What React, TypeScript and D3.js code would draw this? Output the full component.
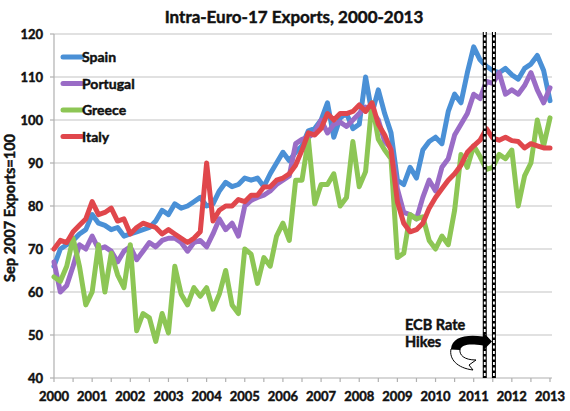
import React from "react";
import * as d3 from "d3";

// Bi-monthly observations, Jan 2000 .. Jan 2013 (index i -> 2000 + i*2 months)
const START_YEAR = 2000;
const STEP_MONTHS = 2;

const spain = [
  66, 70, 71, 72, 73.5, 74.5, 78, 76, 75.5, 74.5, 75, 73,
  73.5, 74, 74.5, 75, 76.5, 79, 78, 80.5, 79.5, 80, 81, 82,
  80, 80.5, 83.5, 85.5, 84.5, 85, 86.5, 86, 86.5, 84.5, 87.5, 90,
  92.5, 90.5, 92.5, 94, 97.5, 98, 100, 104, 96, 100.5, 101.5, 98,
  99, 110, 101.5, 107, 101.5, 97, 86, 85, 89, 86.5, 93, 95,
  96, 94.5, 102, 106, 104, 111, 117, 114, 112.5, 111.5, 111, 112,
  110.5, 109.5, 112, 113, 115, 111.5, 104.5,
];

const portugal = [
  67, 60, 61.5, 66, 71, 70, 73, 70, 70.5, 69.5, 67, 69.5,
  70.5, 67.5, 69.5, 71.5, 70.5, 72, 72.5, 72.5, 71.5, 69.5, 71.5, 72,
  70.5, 73.5, 77, 74.5, 76, 73, 80, 81.3, 82, 82.5, 83.5, 85,
  86, 87, 94.5, 95.5, 96, 97, 100, 97, 99, 99.5, 98.5, 100,
  101.5, 103, 102, 100, 95, 93.5, 84, 78.5, 78, 77, 82, 86,
  83.5, 89, 91, 96.5, 99, 101.5, 106, 105, 109, 108.5, 111, 106,
  107, 106, 108, 111, 107, 104, 107.5,
];

const greece = [
  63.5, 62.5, 66, 72.5, 66, 57, 60, 71, 60, 69, 64, 61,
  71, 51, 55, 54, 48.5, 55, 50.5, 66, 59.5, 57, 61, 59,
  61, 56, 59.5, 65, 57, 55, 70, 68.8, 62, 68, 66, 73,
  76, 72, 86, 86, 95.5, 80.5, 85, 85, 87.5, 80, 82, 95,
  84.5, 88, 104, 95.5, 93, 91, 68, 69, 78, 77, 77.5, 72,
  70, 73, 71, 79, 92, 89, 94, 91.5, 88.5, 89, 92, 91,
  93, 80, 87, 90, 100, 94, 100.5,
];

const italy = [
  70, 72, 71.5, 74, 75.5, 77, 81, 78, 78.5, 79.5, 76.5, 77,
  73.5, 75, 76, 75.5, 75, 73.5, 74.5, 73.5, 72.5, 71.5, 72.5, 74,
  90, 76.5, 79, 80, 80, 81.5, 81, 82.5, 82.5, 84.4, 84.5, 86,
  86.5, 87.5, 89.5, 93, 97, 96.5, 98, 101.5, 100, 101.5, 101.5, 102,
  103.5, 102, 104, 99, 96.5, 93, 81, 76, 74, 74.5, 76, 79.5,
  82, 84, 86, 87.5, 89.5, 92.5, 94, 95.3, 98, 95.8, 95.3, 96,
  95.2, 95, 93.5, 94.5, 94, 93.5, 93.5,
];

const seriesNames = ["Spain", "Portugal", "Greece", "Italy"];
const seriesValues = [spain, portugal, greece, italy];
const seriesColors = ["#4a90d6", "#9a6cc6", "#8dc655", "#e0474c"];

const yearLabels = [
  "2000", "2001", "2002", "2003", "2004", "2005", "2006",
  "2007", "2008", "2009", "2010", "2011", "2012", "2013",
];
const yTicks = [40, 50, 60, 70, 80, 90, 100, 110, 120];
const ecbHikes = [2011.29, 2011.53]; // April and July 2011

const FONT = "Lato, 'Open Sans', sans-serif";
const TXT = { fill: "#111", stroke: "#111", strokeWidth: 0.45, fontWeight: "bold" as const };

export default function App() {
  const W = 570;
  const H = 411;
  const left = 54;
  const right = 550;
  const top = 34;
  const bottom = 378;

  const x = d3.scaleLinear().domain([2000, 2013]).range([left, right]);
  const y = d3.scaleLinear().domain([40, 120]).range([bottom, top]);

  const timeOf = (i: number) => START_YEAR + (i * STEP_MONTHS) / 12;

  const line = d3
    .line<number>()
    .x((_, i) => x(timeOf(i)))
    .y((d) => y(d))
    .curve(d3.curveLinear);

  const halfYearTicks = d3.range(2000, 2013.01, 0.5);

  return (
    <svg
      width={W}
      height={H}
      style={{ position: "absolute", left: 0, top: 0, background: "#fff" }}
      fontFamily={FONT}
    >
      <rect x={0} y={0} width={W} height={H} fill="#fff" />
      {/* Title */}
      <text x={294} y={23} textAnchor="middle" fontSize={17} {...TXT}>
        Intra-Euro-17 Exports, 2000-2013
      </text>

      {/* Gridlines */}
      {yTicks
        .filter((t) => t > 40)
        .map((t) => (
          <line
            key={"g" + t}
            x1={left}
            x2={right + 2}
            y1={y(t)}
            y2={y(t)}
            stroke="#c4c4c4"
            strokeWidth={1.2}
          />
        ))}

      {/* Axes */}
      <line x1={left} x2={left} y1={top} y2={bottom} stroke="#b0b0b0" strokeWidth={1.2} />
      <line x1={left} x2={right + 2} y1={bottom} y2={bottom} stroke="#b0b0b0" strokeWidth={1.2} />
      {yTicks.map((t) => (
        <line
          key={"yt" + t}
          x1={left - 4}
          x2={left}
          y1={y(t)}
          y2={y(t)}
          stroke="#b0b0b0"
          strokeWidth={1.2}
        />
      ))}
      {halfYearTicks.map((t) => (
        <line
          key={"xt" + t}
          x1={x(t)}
          x2={x(t)}
          y1={bottom}
          y2={bottom + 4}
          stroke="#b0b0b0"
          strokeWidth={1.2}
        />
      ))}

      {/* Y tick labels */}
      {yTicks.map((t) => (
        <text key={"yl" + t} x={43} y={y(t) + 4.5} textAnchor="end" fontSize={13} {...TXT}>
          {t}
        </text>
      ))}

      {/* X tick labels */}
      {yearLabels.map((lab) => (
        <text key={"xl" + lab} x={x(+lab)} y={401} textAnchor="middle" fontSize={13} {...TXT}>
          {lab}
        </text>
      ))}

      {/* Y axis title */}
      <text
        transform={`translate(15, 208) rotate(-90)`}
        textAnchor="middle"
        fontSize={14.5}
        {...TXT}
      >
        Sep 2007 Exports=100
      </text>

      {/* Series */}
      {seriesValues.map((vals, k) => (
        <path
          key={seriesNames[k]}
          d={line(vals) || ""}
          fill="none"
          stroke={seriesColors[k]}
          strokeWidth={5}
          strokeLinejoin="round"
          strokeLinecap="round"
        />
      ))}

      {/* ECB hike lines */}
      {ecbHikes.map((t) => (
        <g key={"ecb" + t}>
          <line x1={x(t)} x2={x(t)} y1={top - 2} y2={bottom} stroke="#000" strokeWidth={4} />
          <line
            x1={x(t)}
            x2={x(t)}
            y1={top - 2}
            y2={bottom}
            stroke="#fff"
            strokeWidth={1.8}
            strokeDasharray="3,2.5"
          />
        </g>
      ))}

      {/* Annotation */}
      <text x={405} y={330} fontSize={14.5} {...TXT}>
        ECB Rate
      </text>
      <text x={405} y={347} fontSize={14.5} {...TXT}>
        Hikes
      </text>
      <path
        d="M 451 349 C 449 359, 457 368, 473 370 L 469 365 L 476 360 C 464 360, 459 355, 460 349 Z"
        fill="#fff"
        stroke="#000"
        strokeWidth={1}
      />
      <path
        d="M 451 349 C 452 337, 466 334, 483 336.5 L 483 332 L 492 341.5 L 483 350.5 L 483 345.5 C 470 343.5, 462 344, 460 350 Z"
        fill="#000"
      />

      {/* Legend */}
      {seriesNames.map((name, k) => {
        const ly = 57 + k * 26.5;
        return (
          <g key={"lg" + name}>
            <line
              x1={63}
              x2={82}
              y1={ly}
              y2={ly}
              stroke={seriesColors[k]}
              strokeWidth={5}
              strokeLinecap="round"
            />
            <text x={82} y={ly + 5} fontSize={14} {...TXT}>
              {name}
            </text>
          </g>
        );
      })}
    </svg>
  );
}
